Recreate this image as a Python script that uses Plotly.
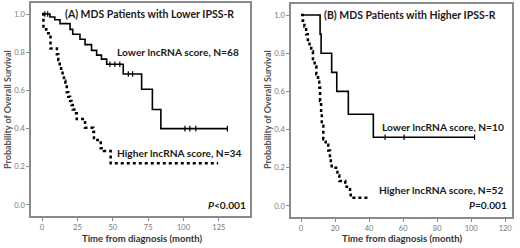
import plotly.graph_objects as go

# ---- Data ----
# Panel A: Lower IPSS-R
a_low_t = [0, 5.6, 9, 12.7, 19.8, 21.7, 26.8, 30.4, 35, 38.6, 42, 45.7, 57.4, 70.4, 78, 84, 131]
a_low_s = [1.0, 0.985, 0.97, 0.95, 0.92, 0.894, 0.868, 0.84, 0.81, 0.785, 0.764, 0.737, 0.686, 0.606, 0.50, 0.40, 0.40]
a_low_cens_t = [2, 4, 48, 51.5, 55, 61, 64, 101, 104.5, 108.7, 131]
a_high_t = [0, 1, 3, 6, 10.5, 11.5, 12.5, 13.5, 14.5, 15.5, 16.5, 17.5, 18.5, 19.8, 20.8, 21.7,
            22.8, 24.5, 30.4, 36.3, 36.7, 41.5, 43.8, 48.5, 124.5]
a_high_s = [1.0, 0.92, 0.90, 0.82, 0.79, 0.76, 0.73, 0.70, 0.675, 0.65, 0.62, 0.59, 0.567, 0.545, 0.524, 0.50,
            0.48, 0.45, 0.405, 0.384, 0.34, 0.297, 0.283, 0.218, 0.218]

# Panel B: Higher IPSS-R
b_low_t = [0, 11.2, 11.8, 18, 21, 27.8, 42.5, 102]
b_low_s = [1.0, 0.9, 0.8, 0.7, 0.6, 0.48, 0.36, 0.36]
b_low_cens_t = [49.4, 60.6, 102]
b_high_t = [0, 1, 2, 3, 4, 5, 6, 7, 8, 9, 10, 10.7, 11.2, 11.8, 12.2, 13.1, 14.5, 16, 17, 17.5, 18,
            21.4, 22.5, 26, 28.8, 29.2, 40.6]
b_high_s = [1.0, 0.97, 0.94, 0.90, 0.87, 0.84, 0.81, 0.77, 0.73, 0.69, 0.65, 0.62, 0.55, 0.48, 0.42, 0.35,
            0.32, 0.29, 0.25, 0.22, 0.20, 0.16, 0.13, 0.10, 0.075, 0.043, 0.043]

a_xticks = [0, 25, 50, 75, 100, 125]
b_xticks = [0, 20, 40, 60, 80, 100, 120]
yticks = [0.0, 0.2, 0.4, 0.6, 0.8, 1.0]
ytick_labels = ["0.0", "0.2", "0.4", "0.6", "0.8", "1.0"]


def surv_at(ts, ss, t):
    v = ss[0]
    for ti, si in zip(ts, ss):
        if ti <= t:
            v = si
    return v


W, H = 520, 248
FONT = "Lato"
fig = go.Figure()

# Panel A traces
fig.add_trace(go.Scatter(x=a_high_t, y=a_high_s, mode="lines", line=dict(shape="hv", color="black", width=2.5, dash="dot"),
                         xaxis="x", yaxis="y", hoverinfo="skip"))
fig.add_trace(go.Scatter(x=a_low_t, y=a_low_s, mode="lines", line=dict(shape="hv", color="black", width=1.6),
                         xaxis="x", yaxis="y", hoverinfo="skip"))
fig.add_trace(go.Scatter(x=a_low_cens_t, y=[surv_at(a_low_t, a_low_s, t) for t in a_low_cens_t], mode="markers",
                         marker=dict(symbol="line-ns", size=4, line=dict(color="black", width=1.2)),
                         xaxis="x", yaxis="y", hoverinfo="skip"))

# Panel B traces
fig.add_trace(go.Scatter(x=b_high_t, y=b_high_s, mode="lines", line=dict(shape="hv", color="black", width=2.5, dash="dot"),
                         xaxis="x2", yaxis="y2", hoverinfo="skip"))
fig.add_trace(go.Scatter(x=b_low_t, y=b_low_s, mode="lines", line=dict(shape="hv", color="black", width=1.6),
                         xaxis="x2", yaxis="y2", hoverinfo="skip"))
fig.add_trace(go.Scatter(x=b_low_cens_t, y=[surv_at(b_low_t, b_low_s, t) for t in b_low_cens_t], mode="markers",
                         marker=dict(symbol="line-ns", size=4, line=dict(color="black", width=1.2)),
                         xaxis="x2", yaxis="y2", hoverinfo="skip"))

axis_common = dict(showgrid=False, zeroline=False, showline=True, mirror=True, linecolor="#8a8a8a", linewidth=1.5,
                   ticks="outside", ticklen=3, tickcolor="#8a8a8a", tickwidth=1,
                   tickfont=dict(family=FONT, size=7.5, color="#777777"), fixedrange=True)

fig.update_layout(
    width=W, height=H, margin=dict(l=0, r=0, t=0, b=0),
    paper_bgcolor="white", plot_bgcolor="white", showlegend=False,
    xaxis=dict(domain=[31 / W, 250 / W], range=[-7.8, 147], tickvals=a_xticks, anchor="y", **axis_common),
    yaxis=dict(domain=[1 - 216 / H, 1 - 3 / H], range=[-0.058, 1.058], tickvals=yticks, ticktext=ytick_labels,
               anchor="x", **axis_common),
    xaxis2=dict(domain=[291 / W, 512 / W], range=[-5.9, 124], tickvals=b_xticks, anchor="y2", **axis_common),
    yaxis2=dict(domain=[1 - 217 / H, 1 - 4 / H], range=[-0.058, 1.058], tickvals=yticks, ticktext=ytick_labels,
                anchor="x2", **axis_common),
)

ann = []
title_font = dict(family=FONT, size=10.5, color="#1a1a1a")
label_font = dict(family=FONT, size=10.2, color="#1a1a1a")


def px(xp, yp, text, xanchor="left", font=None, angle=0):
    ann.append(dict(x=xp / W, y=1 - yp / H, xref="paper", yref="paper", text=text, showarrow=False,
                    xanchor=xanchor, yanchor="middle", font=font or label_font, textangle=angle))


xt_font = dict(family=FONT, size=9.5, color="#333333")
yt_font = dict(family=FONT, size=9, color="#555555")

# Panel A text
px(63, 14, "<b>(A) MDS Patients with Lower IPSS-R</b>", font=title_font)
px(115, 52, "<b>Lower lncRNA score, N=68</b>")
px(115, 153, "<b>Higher lncRNA score, N=34</b>")
px(248, 205, "<b><i>P</i><0.001</b>", xanchor="right")
px(141.5, 238.5, "<b>Time from diagnosis (month)</b>", xanchor="center", font=xt_font)
px(7, 110, "<b>Probability of Overall Survival</b>", xanchor="center", font=yt_font, angle=-90)

# Panel B text
px(322, 15, "<b>(B) MDS Patients with Higher IPSS-R</b>", font=title_font)
px(380, 127, "<b>Lower lncRNA score, N=10</b>")
px(377, 190, "<b>Higher lncRNA score, N=52</b>")
px(509, 205, "<b><i>P</i>=0.001</b>", xanchor="right")
px(401.5, 238.5, "<b>Time from diagnosis (month)</b>", xanchor="center", font=xt_font)
px(267, 110, "<b>Probability of Overall Survival</b>", xanchor="center", font=yt_font, angle=-90)

fig.update_layout(annotations=ann)
fig.write_html("out.html", config={"displayModeBar": False},
               post_script="document.body.style.margin='0';document.body.style.overflow='hidden';")
